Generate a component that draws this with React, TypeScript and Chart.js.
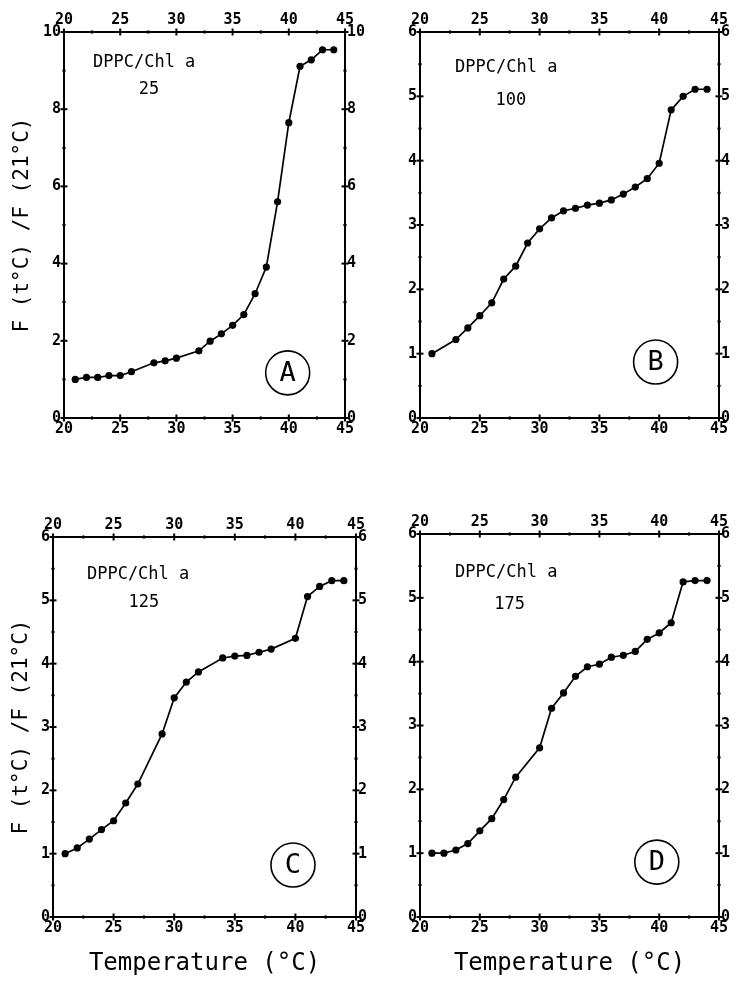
import React, { useEffect, useRef } from 'react';
import { Chart, registerables } from 'chart.js';

Chart.register(...registerables);

// ---------- data ----------
const tempsA = [21, 22, 23, 24, 25, 26, 28, 29, 30, 32, 33, 34, 35, 36, 37, 38, 39, 40, 41, 42, 43, 44];
const valuesA = [1.0, 1.05, 1.05, 1.1, 1.1, 1.2, 1.43, 1.48, 1.55, 1.74, 1.99, 2.18, 2.4, 2.68, 3.22, 3.91, 5.6, 7.65, 9.11, 9.28, 9.54, 9.54];

const tempsB = [21, 23, 24, 25, 26, 27, 28, 29, 30, 31, 32, 33, 34, 35, 36, 37, 38, 39, 40, 41, 42, 43, 44];
const valuesB = [1.0, 1.22, 1.4, 1.59, 1.79, 2.16, 2.36, 2.72, 2.94, 3.11, 3.22, 3.26, 3.31, 3.34, 3.39, 3.48, 3.59, 3.72, 3.96, 4.79, 5.0, 5.11, 5.11];

const tempsC = [21, 22, 23, 24, 25, 26, 27, 29, 30, 31, 32, 34, 35, 36, 37, 38, 40, 41, 42, 43, 44];
const valuesC = [1.0, 1.09, 1.23, 1.38, 1.52, 1.8, 2.1, 2.89, 3.46, 3.71, 3.87, 4.09, 4.12, 4.13, 4.18, 4.23, 4.4, 5.06, 5.22, 5.31, 5.31];

const tempsD = [21, 22, 23, 24, 25, 26, 27, 28, 30, 31, 32, 33, 34, 35, 36, 37, 38, 39, 40, 41, 42, 43, 44];
const valuesD = [1.0, 1.0, 1.05, 1.15, 1.35, 1.54, 1.84, 2.19, 2.65, 3.27, 3.51, 3.77, 3.92, 3.96, 4.07, 4.1, 4.16, 4.35, 4.45, 4.61, 5.25, 5.27, 5.27];

const xTickLabels = [20, 25, 30, 35, 40, 45];
const yTickLabelsA = [0, 2, 4, 6, 8, 10];
const yTickLabelsBCD = [0, 1, 2, 3, 4, 5, 6];
const ratioLabels = ['25', '100', '125', '175'];
const panelLetters = ['A', 'B', 'C', 'D'];
const sampleLabel = 'DPPC/Chl a';
const yTitle = 'F (t°C) /F (21°C)';
const xTitle = 'Temperature (°C)';

// ---------- layout / style ----------
const MONO = '"DejaVu Sans Mono", monospace';

type Box = { left: number; top: number; width: number; height: number; padL: number; padR: number; padT: number; padB: number };
type Note = { labelX: number; labelY: number; ratioX: number; ratioY: number; circX: number; circY: number };

type Panel = {
  temps: number[];
  values: number[];
  yTicks: number[];
  yStep: number;
  ratio: string;
  letter: string;
  box: Box;
  yTitle: boolean;
  yTitlePad: number;
  xTitle: boolean;
  note: Note;
};

const panels: Panel[] = [
  {
    temps: tempsA, values: valuesA, yTicks: yTickLabelsA, yStep: 1, ratio: ratioLabels[0], letter: panelLetters[0],
    box: { left: 0, top: 0, width: 370, height: 470, padL: 64, padR: 25, padT: 32, padB: 52 },
    yTitle: true, yTitlePad: 10, xTitle: false,
    note: { labelX: 22.58, labelY: 9.22, ratioX: 27.56, ratioY: 8.5, circX: 39.9, circY: 1.17 },
  },
  {
    temps: tempsB, values: valuesB, yTicks: yTickLabelsBCD, yStep: 0.5, ratio: ratioLabels[1], letter: panelLetters[1],
    box: { left: 370, top: 0, width: 366, height: 470, padL: 50, padR: 17, padT: 32, padB: 52 },
    yTitle: false, yTitlePad: 0, xTitle: false,
    note: { labelX: 22.93, labelY: 5.44, ratioX: 27.6, ratioY: 4.94, circX: 39.7, circY: 0.87 },
  },
  {
    temps: tempsC, values: valuesC, yTicks: yTickLabelsBCD, yStep: 0.5, ratio: ratioLabels[2], letter: panelLetters[2],
    box: { left: 0, top: 470, width: 378, height: 517, padL: 53, padR: 22, padT: 67, padB: 70 },
    yTitle: true, yTitlePad: 8.5, xTitle: true,
    note: { labelX: 22.8, labelY: 5.4, ratioX: 27.5, ratioY: 4.97, circX: 39.8, circY: 0.82 },
  },
  {
    temps: tempsD, values: valuesD, yTicks: yTickLabelsBCD, yStep: 0.5, ratio: ratioLabels[3], letter: panelLetters[3],
    box: { left: 378, top: 470, width: 358, height: 517, padL: 42, padR: 17, padT: 64, padB: 70 },
    yTitle: false, yTitlePad: 0, xTitle: true,
    note: { labelX: 22.93, labelY: 5.4, ratioX: 27.5, ratioY: 4.9, circX: 39.8, circY: 0.86 },
  },
];

const tickFont = { family: MONO, size: 15, weight: 'bold' as const };

function framePlugin(p: Panel) {
  return {
    id: 'frameTicks' + p.letter,
    afterDraw(chart: any) {
      const { ctx, chartArea, scales } = chart;
      const sx = scales.x;
      const sy = scales.y;
      ctx.save();
      ctx.strokeStyle = '#000';
      ctx.fillStyle = '#000';
      ctx.lineWidth = 2;
      const cross = (scale: any, edge: 'top' | 'bottom' | 'left' | 'right') => {
        scale.ticks.forEach((t: any) => {
          const major = t.label !== '' && t.label !== undefined;
          const half = major ? 3.5 : 1.6;
          const pix = scale.getPixelForValue(t.value);
          ctx.beginPath();
          if (edge === 'top' || edge === 'bottom') {
            const y = edge === 'top' ? chartArea.top : chartArea.bottom;
            ctx.moveTo(pix, y - half);
            ctx.lineTo(pix, y + half);
          } else {
            const x = edge === 'left' ? chartArea.left : chartArea.right;
            ctx.moveTo(x - half, pix);
            ctx.lineTo(x + half, pix);
          }
          ctx.stroke();
        });
      };
      cross(scales.x, 'bottom');
      cross(scales.x2, 'top');
      cross(scales.y, 'left');
      cross(scales.y2, 'right');

      // annotation text
      ctx.textBaseline = 'middle';
      ctx.font = `17px ${MONO}`;
      ctx.textAlign = 'left';
      ctx.fillText(sampleLabel, sx.getPixelForValue(p.note.labelX), sy.getPixelForValue(p.note.labelY));
      ctx.textAlign = 'center';
      ctx.fillText(p.ratio, sx.getPixelForValue(p.note.ratioX), sy.getPixelForValue(p.note.ratioY));

      // circled letter
      const cx = sx.getPixelForValue(p.note.circX);
      const cy = sy.getPixelForValue(p.note.circY);
      ctx.lineWidth = 1.6;
      ctx.beginPath();
      ctx.arc(cx, cy, 22, 0, Math.PI * 2);
      ctx.stroke();
      ctx.font = `27px ${MONO}`;
      ctx.fillText(p.letter, cx, cy + 1);
      ctx.restore();
    },
  };
}

function PanelChart({ p }: { p: Panel }) {
  const ref = useRef<HTMLCanvasElement | null>(null);
  useEffect(() => {
    if (!ref.current) return;
    const b = p.box;
    const xTickCb = (v: any) => (xTickLabels.includes(Number(v)) ? String(v) : '');
    const yTickCb = (v: any) => (p.yTicks.includes(Number(v)) ? String(v) : '');
    const border = { display: true, color: '#000', width: 2 };
    const grid = { display: false, drawTicks: false };
    const yMax = p.yTicks[p.yTicks.length - 1];
    const chart = new Chart(ref.current, {
      type: 'line',
      data: {
        datasets: [
          {
            data: p.temps.map((t, i) => ({ x: t, y: p.values[i] })),
            borderColor: '#000',
            borderWidth: 1.7,
            backgroundColor: '#000',
            pointBackgroundColor: '#000',
            pointBorderColor: '#000',
            pointBorderWidth: 0,
            pointRadius: 3.6,
            tension: 0,
            fill: false,
            xAxisID: 'x',
            yAxisID: 'y',
          },
        ],
      },
      options: {
        responsive: false,
        animation: false,
        events: [],
        layout: { padding: 0 },
        plugins: { legend: { display: false }, tooltip: { enabled: false }, title: { display: false } },
        scales: {
          x: {
            type: 'linear', position: 'bottom', min: 20, max: 45,
            ticks: { stepSize: 2.5, callback: xTickCb, font: tickFont, color: '#000', padding: 2, maxRotation: 0, autoSkip: false },
            grid, border,
            title: {
              display: p.xTitle, text: xTitle, color: '#000',
              font: { family: MONO, size: 24 }, padding: { top: 0, bottom: 9 },
            },
            afterFit: (s: any) => { s.height = b.padB; },
          },
          x2: {
            type: 'linear', position: 'top', min: 20, max: 45,
            ticks: { stepSize: 2.5, callback: xTickCb, font: tickFont, color: '#000', padding: 3, maxRotation: 0, autoSkip: false },
            grid, border,
            afterFit: (s: any) => { s.height = b.padT; },
          },
          y: {
            type: 'linear', position: 'left', min: 0, max: yMax,
            ticks: { stepSize: p.yStep, callback: yTickCb, font: tickFont, color: '#000', padding: 3, autoSkip: false },
            grid, border,
            title: {
              display: p.yTitle, text: yTitle, color: '#000',
              font: { family: MONO, size: 21 }, padding: { top: p.yTitlePad, bottom: 0 },
            },
            afterFit: (s: any) => { s.width = b.padL; },
          },
          y2: {
            type: 'linear', position: 'right', min: 0, max: yMax,
            ticks: { stepSize: p.yStep, callback: yTickCb, font: tickFont, color: '#000', padding: 2, autoSkip: false },
            grid, border,
            afterFit: (s: any) => { s.width = b.padR; },
          },
        },
      },
      plugins: [framePlugin(p)],
    } as any);
    return () => chart.destroy();
  }, [p]);
  const b = p.box;
  return (
    <canvas
      ref={ref}
      width={b.width}
      height={b.height}
      style={{ position: 'absolute', left: b.left, top: b.top, width: b.width, height: b.height }}
    />
  );
}

export default function App() {
  return (
    <div style={{ position: 'absolute', left: 0, top: 0, width: 736, height: 987, background: '#fff', overflow: 'hidden' }}>
      {panels.map((p) => (
        <PanelChart key={p.letter} p={p} />
      ))}
    </div>
  );
}
